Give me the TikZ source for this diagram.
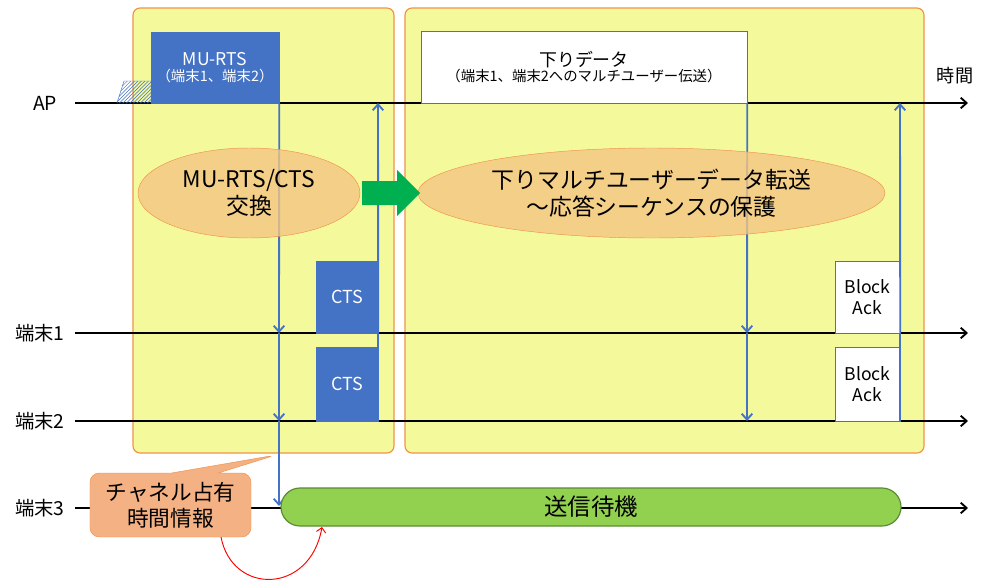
\documentclass[tikz,border=0pt]{standalone}
\usepackage{fontspec}
\setmainfont{Noto Sans CJK JP}
\usetikzlibrary{shapes.geometric,shapes.callouts,patterns,arrows.meta}

\definecolor{panelyellow}{HTML}{F4FA9C}
\definecolor{paneledge}{HTML}{F0934A}
\definecolor{msgblue}{HTML}{4472C4}
\definecolor{phasefill}{HTML}{F5C584}
\definecolor{gobright}{HTML}{00B050}
\definecolor{waitgreen}{HTML}{92D050}
\definecolor{waitedge}{HTML}{5B8A36}
\definecolor{notefill}{HTML}{F4B183}

\begin{document}
\begin{tikzpicture}[x=0.03cm, y=-0.03cm,
    panel/.style={draw=paneledge, line width=1pt, fill=panelyellow, rounded corners=6pt},
    axis/.style={line width=1.6pt, -{Straight Barb[length=5pt, width=9pt]}},
    station/.style={font=\fontsize{16.5}{19}\selectfont, anchor=center},
    bluebox/.style={draw=msgblue, fill=msgblue, text=white, align=center, inner sep=0pt},
    whitebox/.style={draw=msgblue, fill=white, align=center, inner sep=0pt},
    frame/.style={msgblue, line width=1.6pt},
    frametip/.style={frame, -{Straight Barb[length=5pt, width=9pt]}},
    phase/.style={ellipse, draw=paneledge, fill=phasefill, fill opacity=0.8, text opacity=1, align=center,
      font=\fontsize{19.5}{23}\selectfont, inner sep=0pt}]
    \useasboundingbox (0,0) rectangle (1000,588);

    % two phases
    \draw[panel] (133,8) rectangle (394,453);
    \draw[panel] (405,8) rectangle (924,453);

    % time lines
    \node[station] (ap) at (45,103) {AP};
    \node[station] (sta1) at (40,333) {端末1};
    \node[station] (sta2) at (40,421) {端末2};
    \node[station] (sta3) at (40,508) {端末3};
    \node[station, font=\fontsize{15.5}{18}\selectfont] (time) at (955,76) {時間};
    \coordinate (ap0) at (75,103);   \coordinate (ap1) at (968,103);
    \coordinate (s10) at (75,333);   \coordinate (s11) at (968,333);
    \coordinate (s20) at (75,421);   \coordinate (s21) at (968,421);
    \coordinate (s30) at (75,508);   \coordinate (s31) at (968,508);
    \draw[axis] (ap0) -- (ap1);
    \draw[axis] (s10) -- (s11);
    \draw[axis] (s20) -- (s21);
    \draw[axis] (s30) -- (s31);

    % frames
    \draw[msgblue, pattern=north east lines, pattern color=msgblue] (117,103) -- (124,81) -- (151,81) -- (151,103) -- cycle;
    \node[bluebox, minimum width=3.84cm, minimum height=2.13cm] (rts) at (215,67.5)
      {\fontsize{15}{18}\selectfont MU-RTS\\[2pt]\fontsize{12.3}{15}\selectfont （端末1、端末2）};
    \node[whitebox, minimum width=9.78cm, minimum height=2.16cm] (data) at (584,67)
      {\fontsize{15.3}{18}\selectfont 下りデータ\\[1pt]\fontsize{12.3}{15}\selectfont （端末1、端末2へのマルチユーザー伝送）};
    \node[bluebox, minimum width=1.86cm, minimum height=2.16cm, font=\fontsize{15.3}{18}\selectfont] (cts1) at (347,297) {CTS};
    \node[bluebox, minimum width=1.86cm, minimum height=2.22cm, font=\fontsize{15.3}{18}\selectfont] (cts2) at (347,384) {CTS};
    \node[whitebox, minimum width=1.95cm, minimum height=2.16cm, font=\fontsize{15}{18}\selectfont] (ba1) at (867.5,297) {Block\\Ack};
    \node[whitebox, minimum width=1.95cm, minimum height=2.22cm, font=\fontsize{15}{18}\selectfont] (ba2) at (867.5,384) {Block\\Ack};

    % transmissions
    \coordinate (r1) at (279,333); \coordinate (r2) at (279,421); \coordinate (r3) at (279,506);
    \draw[frametip] (rts.south east) -- (r1);
    \draw[frametip] (r1) -- (r2);
    \draw[frametip] (r2) -- (r3);
    \coordinate (c0) at (378,103);
    \draw[frame] (cts2.south east) -- (cts1.south east);
    \draw[frametip] (cts1.south east) -- (c0);
    \coordinate (d1) at (747,333); \coordinate (d2) at (747,421);
    \draw[frametip] (data.south east) -- (d1);
    \draw[frametip] (d1) -- (d2);
    \coordinate (b0) at (900,103);
    \draw[frame] (ba2.south east) -- (ba1.south east);
    \draw[frametip] (ba1.south east) -- (b0);

    % phases
    \node[phase, minimum width=6.66cm, minimum height=2.7cm] (rtscts) at (249,193) {MU-RTS/CTS\\交換};
    \node[phase, minimum width=14.01cm, minimum height=2.7cm] (dlmu) at (651.5,193)
      {下りマルチユーザーデータ転送\\～応答シーケンスの保護};
    \fill[gobright] (362,181) -- (397,181) -- (397,170) -- (420,193) -- (397,216) -- (397,205) -- (362,205) -- cycle;

    % third station
    \node[draw=waitedge, line width=1pt, fill=waitgreen, rounded corners=0.57cm, minimum width=18.6cm,
      minimum height=1.14cm, font=\fontsize{20}{24}\selectfont] (wait) at (591,507) {送信待機};
    \node[rectangle callout, callout absolute pointer={(276,455)}, callout pointer width=1.4cm,
      draw=paneledge, fill=notefill, rounded corners=8pt, minimum width=4.83cm, minimum height=1.92cm,
      align=center, font=\fontsize{18.5}{22}\selectfont, inner sep=0pt] (note) at (170.5,505) {チャネル占有\\時間情報};
    \coordinate (n0) at (221,537); \coordinate (n1) at (322,527);
    \draw[red, line width=0.8pt, -{Straight Barb[length=4pt, width=8pt]}] (n0) .. controls (232,595) and (310,595) .. (n1);
\end{tikzpicture}
\end{document}
